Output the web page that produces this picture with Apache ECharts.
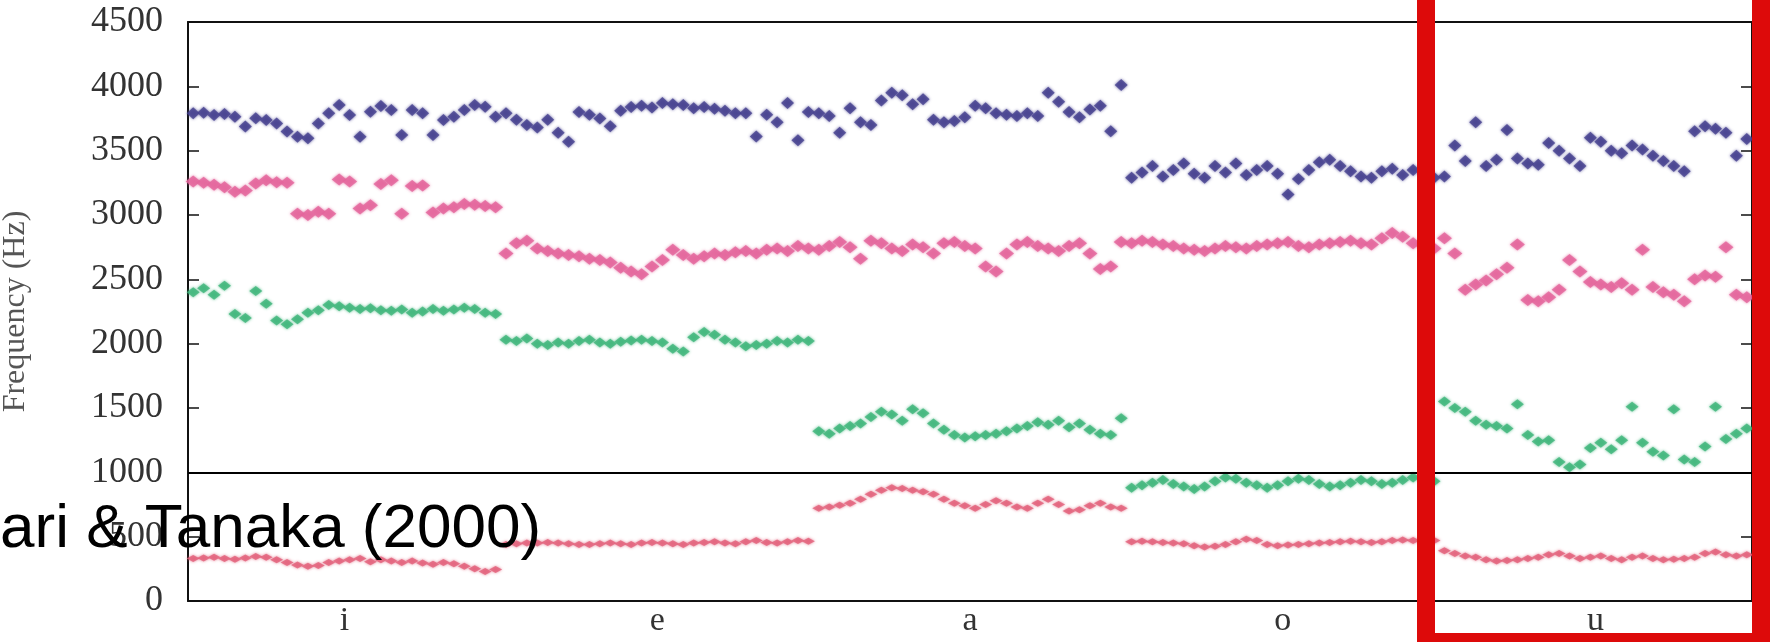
<!DOCTYPE html>
<html>
<head>
<meta charset="utf-8">
<title>Formant frequencies</title>
<script src="https://cdn.jsdelivr.net/npm/echarts@6/dist/echarts.min.js"></script>
<style>
  html, body { margin: 0; padding: 0; background: #fff; }
  #chart { width: 1774px; height: 642px; }
</style>
</head>
<body>
<div id="chart"></div>
<script>
// vowel bands along the x axis
var vowels = ["i", "e", "a", "o", "u"];

// F1 (Hz), one value per frame
var F1_i = [330, 335, 340, 330, 325, 335, 345, 340, 320, 300, 280, 270, 275, 300, 310, 320, 330, 305, 320, 310, 300, 310, 295, 285, 300, 290, 270, 250, 230, 245];
var F1_e = [440, 445, 450, 450, 455, 450, 445, 440, 440, 445, 450, 445, 440, 450, 455, 450, 445, 440, 450, 455, 460, 450, 445, 460, 470, 455, 450, 460, 470, 465];
var F1_a = [720, 730, 745, 760, 790, 830, 860, 880, 875, 860, 850, 830, 790, 760, 740, 720, 750, 780, 760, 730, 720, 760, 790, 750, 700, 710, 740, 760, 730, 720];
var F1_o = [460, 465, 460, 455, 450, 445, 430, 420, 425, 440, 460, 480, 470, 440, 430, 435, 440, 445, 450, 455, 460, 465, 460, 455, 460, 470, 475, 470, 465, 470];
var F1_u = [390, 370, 350, 340, 320, 310, 315, 320, 330, 340, 360, 370, 350, 330, 340, 350, 330, 320, 340, 350, 330, 320, 325, 330, 340, 370, 380, 360, 350, 360];

// F2 (Hz)
var F2_i = [2400, 2430, 2380, 2450, 2230, 2200, 2410, 2310, 2180, 2150, 2190, 2240, 2260, 2300, 2290, 2280, 2270, 2275, 2260, 2255, 2265, 2240, 2250, 2270, 2255, 2265, 2280, 2270, 2240, 2230];
var F2_e = [2030, 2020, 2040, 2000, 1990, 2010, 2000, 2020, 2030, 2010, 2000, 2015, 2025, 2030, 2020, 2010, 1960, 1940, 2050, 2090, 2070, 2030, 2010, 1980, 1990, 2000, 2020, 2010, 2030, 2020];
var F2_a = [1320, 1300, 1340, 1360, 1380, 1430, 1470, 1450, 1400, 1490, 1460, 1380, 1330, 1290, 1270, 1280, 1290, 1300, 1320, 1340, 1360, 1390, 1370, 1400, 1350, 1380, 1330, 1300, 1290, 1420];
var F2_o = [880, 900, 920, 940, 910, 890, 870, 890, 930, 960, 950, 920, 900, 880, 900, 930, 950, 940, 910, 890, 900, 920, 940, 930, 910, 920, 940, 960, 950, 930];
var F2_u = [1550, 1500, 1470, 1400, 1370, 1360, 1340, 1530, 1290, 1240, 1250, 1080, 1040, 1060, 1190, 1230, 1180, 1250, 1510, 1230, 1160, 1130, 1490, 1100, 1080, 1200, 1510, 1260, 1300, 1340];

// F3 (Hz)
var F3_i = [3260, 3250, 3235, 3215, 3180, 3190, 3245, 3270, 3255, 3250, 3010, 3000, 3025, 3010, 3275, 3260, 3050, 3075, 3240, 3270, 3010, 3225, 3230, 3020, 3050, 3060, 3085, 3080, 3070, 3060];
var F3_e = [2700, 2780, 2800, 2740, 2720, 2700, 2690, 2680, 2660, 2650, 2630, 2590, 2560, 2540, 2600, 2650, 2730, 2690, 2660, 2680, 2700, 2690, 2710, 2720, 2700, 2730, 2740, 2720, 2760, 2740];
var F3_a = [2730, 2760, 2790, 2750, 2660, 2800, 2780, 2740, 2720, 2770, 2750, 2700, 2780, 2790, 2760, 2740, 2600, 2560, 2700, 2770, 2790, 2760, 2740, 2720, 2760, 2780, 2700, 2580, 2600, 2790];
var F3_o = [2780, 2800, 2790, 2770, 2760, 2740, 2730, 2720, 2740, 2760, 2750, 2740, 2760, 2770, 2780, 2790, 2760, 2750, 2770, 2780, 2790, 2800, 2780, 2770, 2820, 2860, 2830, 2780, 2760, 2740];
var F3_u = [2820, 2700, 2420, 2460, 2490, 2540, 2590, 2770, 2340, 2330, 2360, 2420, 2650, 2560, 2480, 2460, 2440, 2470, 2420, 2730, 2440, 2400, 2380, 2330, 2500, 2530, 2520, 2750, 2380, 2360];

// F4 (Hz)
var F4_i = [3790, 3795, 3778, 3785, 3764, 3687, 3751, 3738, 3712, 3648, 3609, 3596, 3712, 3790, 3855, 3778, 3609, 3803, 3847, 3816, 3622, 3816, 3790, 3622, 3738, 3764, 3816, 3855, 3842, 3764];
var F4_e = [3790, 3740, 3700, 3680, 3740, 3640, 3570, 3800, 3780, 3750, 3690, 3810, 3840, 3850, 3835, 3870, 3860, 3855, 3830, 3840, 3825, 3810, 3790, 3790, 3610, 3780, 3720, 3870, 3580, 3800];
var F4_a = [3790, 3770, 3640, 3830, 3720, 3700, 3890, 3950, 3930, 3860, 3900, 3740, 3720, 3730, 3760, 3850, 3830, 3790, 3780, 3770, 3790, 3770, 3950, 3880, 3800, 3760, 3820, 3850, 3650, 4010];
var F4_o = [3290, 3330, 3380, 3300, 3350, 3400, 3320, 3290, 3380, 3330, 3400, 3310, 3350, 3380, 3320, 3160, 3280, 3350, 3410, 3430, 3380, 3340, 3300, 3290, 3340, 3360, 3310, 3350, 3330, 3290];
var F4_u = [3300, 3540, 3420, 3720, 3380, 3430, 3660, 3440, 3400, 3390, 3560, 3500, 3440, 3380, 3600, 3570, 3500, 3480, 3540, 3510, 3460, 3420, 3380, 3340, 3650, 3690, 3670, 3640, 3460, 3590];

var serif = "'Liberation Serif', 'DejaVu Serif', serif";

// spread each vowel's frames evenly across its band
function toPoints(tracks) {
  var pts = [];
  tracks.forEach(function (track, v) {
    track.forEach(function (hz, j) {
      pts.push([v + (j + 0.5) / track.length, hz]);
    });
  });
  return pts;
}

function formantSeries(name, tracks, color, size) {
  return {
    name: name,
    type: "scatter",
    xAxisIndex: 1,
    yAxisIndex: 0,
    symbol: "diamond",
    symbolSize: size,
    silent: true,
    itemStyle: { color: color, opacity: 0.8, shadowBlur: 3, shadowColor: color },
    data: toPoints(tracks)
  };
}

var myChart = echarts.init(document.getElementById("chart"));

var f1 = formantSeries("F1", [F1_i, F1_e, F1_a, F1_o, F1_u], "#e2607a", [13, 7]);
f1.markLine = {
  silent: true,
  symbol: "none",
  label: { show: false },
  lineStyle: { color: "#000", width: 2, type: "solid" },
  data: [{ yAxis: 1000 }]
};

var option = {
  animation: false,
  backgroundColor: "#fff",
  grid: { left: 188, right: 22, top: 22, bottom: 41, outerBoundsMode: "none" },
  xAxis: [
    {
      type: "category",
      data: vowels,
      boundaryGap: true,
      position: "bottom",
      axisLine: { lineStyle: { color: "#111", width: 2 } },
      axisTick: { inside: true, length: 11, lineStyle: { color: "#111", width: 1.5 } },
      axisLabel: { fontFamily: serif, fontSize: 34, color: "#333", margin: 3 },
      splitLine: { show: false }
    },
    {
      type: "value",
      min: 0,
      max: 5,
      show: false
    },
    {
      type: "category",
      data: vowels,
      boundaryGap: true,
      position: "top",
      axisLine: { lineStyle: { color: "#111", width: 2 } },
      axisTick: { inside: true, length: 11, lineStyle: { color: "#111", width: 1.5 } },
      axisLabel: { show: false },
      splitLine: { show: false }
    }
  ],
  yAxis: [
    {
      type: "value",
      min: 0,
      max: 4500,
      interval: 500,
      name: "Frequency (Hz)",
      nameLocation: "middle",
      nameRotate: 90,
      nameGap: 156,
      nameTextStyle: { fontFamily: serif, fontSize: 32, color: "#555" },
      axisLine: { show: true, lineStyle: { color: "#111", width: 2 } },
      axisTick: { show: true, inside: true, length: 11, lineStyle: { color: "#111", width: 1.5 } },
      axisLabel: {
        fontFamily: serif,
        fontSize: 36,
        color: "#333",
        margin: 25,
        formatter: function (v) { return String(v); }
      },
      splitLine: { show: false }
    },
    {
      type: "value",
      min: 0,
      max: 4500,
      interval: 500,
      position: "right",
      axisLine: { show: true, lineStyle: { color: "#111", width: 2 } },
      axisTick: { show: true, inside: true, length: 11, lineStyle: { color: "#111", width: 1.5 } },
      axisLabel: { show: false },
      splitLine: { show: false }
    }
  ],
  series: [
    f1,
    formantSeries("F2", [F2_i, F2_e, F2_a, F2_o, F2_u], "#3fb57a", [13, 10]),
    formantSeries("F3", [F3_i, F3_e, F3_a, F3_o, F3_u], "#e4649b", [15, 12]),
    formantSeries("F4", [F4_i, F4_e, F4_a, F4_o, F4_u], "#45408f", [13, 12])
  ],
  graphic: [
    {
      type: "text",
      z: 100,
      left: 0,
      top: 499,
      style: {
        text: "ari & Tanaka (2000)",
        font: "62px 'Liberation Sans', Arial, sans-serif",
        fill: "#000"
      }
    },
    {
      type: "rect",
      z: 101,
      shape: { x: 1426, y: -20, width: 335, height: 662 },
      style: { fill: "none", stroke: "#dd0a0a", lineWidth: 18 }
    }
  ]
};

myChart.setOption(option);
</script>
</body>
</html>
